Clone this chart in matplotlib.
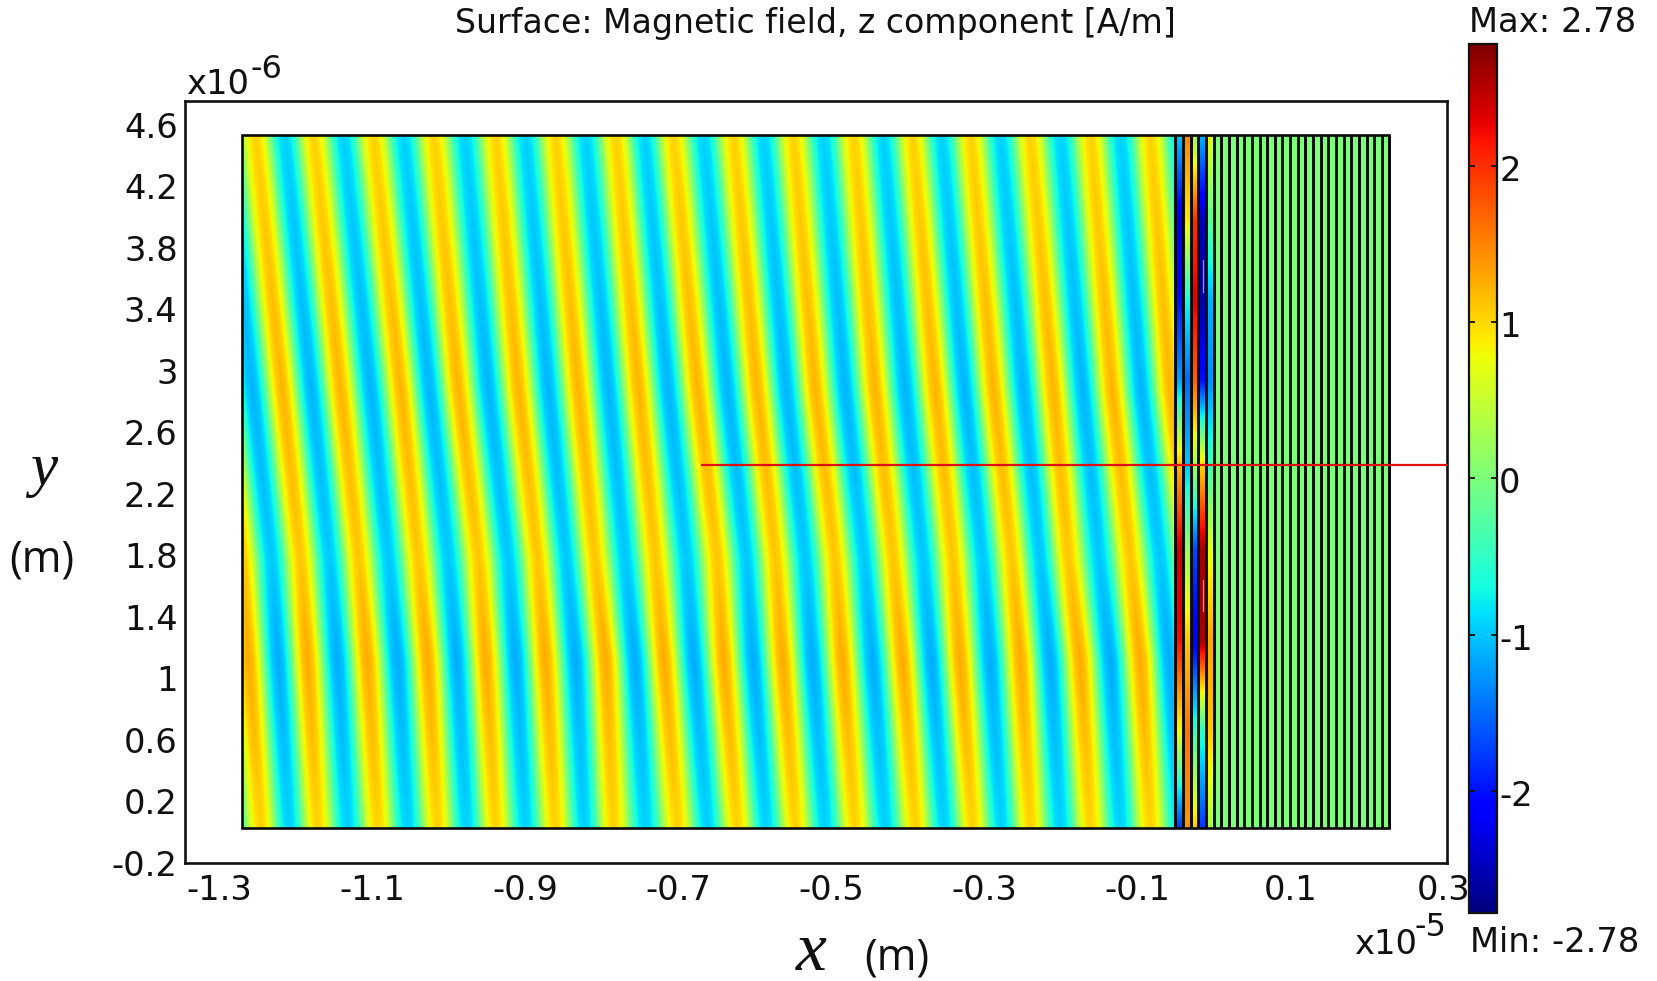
import numpy as np
import matplotlib
matplotlib.use("Agg")
import matplotlib.pyplot as plt
from matplotlib.patches import Rectangle
from matplotlib.cm import ScalarMappable
from matplotlib.colors import Normalize
from matplotlib.transforms import ScaledTranslation

W, H = 1658, 981
TITLE = "Surface: Magnetic field, z component [A/m]"
X_TICKS = [-1.3, -1.1, -0.9, -0.7, -0.5, -0.3, -0.1, 0.1, 0.3]
Y_TICKS = [-0.2, 0.2, 0.6, 1, 1.4, 1.8, 2.2, 2.6, 3, 3.4, 3.8, 4.2, 4.6]
Y_TICK_LABELS = ["-0.2", "0.2", "0.6", "1", "1.4", "1.8", "2.2", "2.6", "3", "3.4", "3.8", "4.2", "4.6"]
CBAR_TICKS = [-2, -1, 0, 1, 2]
V_MIN, V_MAX = -2.78, 2.78
X_LIMITS = (-1.3444, 0.305)
Y_LIMITS = (-0.2, 4.754)

# crest lines of the incident region (x, in 1e-5 m) at five heights (y, in 1e-6 m)
crest_y = [0.028, 1.120, 1.770, 2.875, 4.533]
crest_top = [-1.410, -1.331, -1.253, -1.177, -1.099, -1.020, -0.939, -0.861, -0.782, -0.707,
             -0.628, -0.550, -0.471, -0.394, -0.318, -0.240, -0.161, -0.083, -0.005]
crest_upper = [-1.374, -1.296, -1.218, -1.142, -1.063, -0.988, -0.909, -0.831, -0.752, -0.675,
               -0.597, -0.521, -0.443, -0.364, -0.288, -0.210, -0.133, -0.057, 0.021]
crest_mid = [-1.348, -1.270, -1.194, -1.118, -1.040, -0.961, -0.884, -0.809, -0.730, -0.649,
             -0.573, -0.495, -0.419, -0.341, -0.264, -0.190, -0.109, -0.031, 0.047]
crest_lower = [-1.341, -1.262, -1.185, -1.107, -1.028, -0.952, -0.874, -0.795, -0.719, -0.641,
               -0.564, -0.486, -0.407, -0.332, -0.253, -0.175, -0.096, -0.020, 0.058]
crest_bottom = [-1.325, -1.246, -1.172, -1.093, -1.015, -0.939, -0.861, -0.785, -0.701, -0.623,
                -0.547, -0.469, -0.390, -0.315, -0.240, -0.161, -0.083, -0.005, 0.073]
# values listed from the bottom height to the top height, as crest_y
crest_value = [1.05, 1.28, 1.12, 1.22, 1.05]
trough_value = [-0.95, -1.15, -1.00, -1.10, -0.95]
# share of the crest value across one period, read across a stripe
period_share = [1.0, 0.94, 0.78, 0.48, 0.20, 0.05, 0.0, 0.05, 0.20, 0.48, 0.78, 0.94]

# thin layers
layer_walls = [-0.05, -0.04, -0.03, -0.02, -0.01, 0.00, 0.01, 0.02, 0.03, 0.04, 0.05, 0.06,
               0.07, 0.08, 0.09, 0.10, 0.11, 0.12, 0.13, 0.14, 0.15, 0.16, 0.17, 0.18,
               0.19, 0.20, 0.21, 0.22, 0.229]
layer_y = [0.028, 0.665, 1.250, 1.835, 2.388, 2.940, 3.461, 3.981, 4.533]
layer_1 = [-1.8, 0.8, 2.2, 2.4, 1.2, -1.2, -2.0, -2.3, -1.0]
layer_2 = [1.4, 1.6, 1.1, 0.2, -1.0, -1.5, -0.7, 0.9, 1.5]
layer_3 = [1.1, -0.5, -2.2, -1.7, 0.3, 1.7, 2.3, 2.0, 0.2]
layer_4 = [-1.8, -0.5, 2.6, 2.6, 1.0, -2.0, -2.6, -2.5, -1.1]
layer_5 = [0.3, 1.1, 1.3, 0.7, -0.4, -1.3, -1.1, -0.2, 0.7]
outer_layer_value = 0.02

DOMAIN_X = (-1.27, 0.229)
DOMAIN_Y = (0.028, 4.533)
PROBE_X = (-0.67, X_LIMITS[1])
PROBE_Y = 2.388
SLITS = [(-0.014, 3.72, 3.51), (-0.014, 1.64, 1.44)]

FS = 24.3
plt.rcParams["font.family"] = "DejaVu Sans"
fig = plt.figure(figsize=(W / 100, H / 100), dpi=100, facecolor="white")


def px_axes(l, t, r, b):
    return fig.add_axes([l / W, 1 - b / H, (r - l) / W, (b - t) / H])


def txt(x, y, s, **kw):
    kw.setdefault("fontsize", FS)
    kw.setdefault("color", "#111111")
    return fig.text(x / W, 1 - y / H, s, **kw)


ax = px_axes(185, 101, 1447, 863)
for s in ax.spines.values():
    s.set_linewidth(1.9)
    s.set_color("#111111")
ax.set_xticks(X_TICKS, [f"{v:g}" for v in X_TICKS], fontsize=FS, color="#111111")
ax.set_yticks(Y_TICKS, Y_TICK_LABELS, fontsize=FS, color="#111111")
ax.tick_params(axis="both", length=0)
ax.tick_params(axis="x", pad=8)
ax.tick_params(axis="y", pad=5.3)

# resample the read crest lines onto the pixel grid of the incident region
crests = np.array([crest_bottom, crest_lower, crest_mid, crest_upper, crest_top])
share = np.array(period_share)
fractions = np.arange(len(share)) / len(share)
x_fine = np.linspace(DOMAIN_X[0], layer_walls[0], 936)
y_fine = np.linspace(DOMAIN_Y[0], DOMAIN_Y[1], 694)
field = np.zeros((y_fine.size, x_fine.size))
share_nodes = np.append(np.tile(share, crests.shape[1] - 1), share[0])
for row, y in enumerate(y_fine):
    line = np.array([np.interp(y, crest_y, crests[:, k]) for k in range(crests.shape[1])])
    nodes = np.concatenate([line[k] + (line[k + 1] - line[k]) * fractions for k in range(line.size - 1)]
                           + [[line[-1]]])
    c = np.interp(y, crest_y, crest_value)
    t = np.interp(y, crest_y, trough_value)
    field[row] = np.interp(x_fine, nodes, t + share_nodes * (c - t))

kw = dict(origin="lower", aspect="auto", cmap="jet", vmin=V_MIN, vmax=V_MAX, interpolation="bilinear")
ax.imshow(field, extent=(DOMAIN_X[0], layer_walls[0], DOMAIN_Y[0], DOMAIN_Y[1]), **kw)
for i, values in enumerate([layer_1, layer_2, layer_3, layer_4, layer_5]):
    strip = np.interp(y_fine, layer_y, values)[:, None]
    ax.imshow(strip, extent=(layer_walls[i], layer_walls[i + 1], DOMAIN_Y[0], DOMAIN_Y[1]), **kw)
ax.imshow([[outer_layer_value]], extent=(layer_walls[5], DOMAIN_X[1], DOMAIN_Y[0], DOMAIN_Y[1]), **kw)
ax.set_xlim(*X_LIMITS)
ax.set_ylim(*Y_LIMITS)

ax.vlines(layer_walls, DOMAIN_Y[0], DOMAIN_Y[1], color="#0a0a0a", linewidth=2.1, zorder=3)
ax.add_patch(Rectangle((DOMAIN_X[0], DOMAIN_Y[0]), DOMAIN_X[1] - DOMAIN_X[0], DOMAIN_Y[1] - DOMAIN_Y[0],
                       facecolor="none", edgecolor="#0a0a0a", linewidth=1.9, zorder=4))
for sx, y0, y1 in SLITS:
    ax.plot([sx, sx], [y0, y1], color="#c8c0e0", linewidth=0.9, alpha=0.8, zorder=3)
ax.plot(PROBE_X, [PROBE_Y, PROBE_Y], color="#e01010", linewidth=1.6, zorder=5, solid_capstyle="butt")

cax = px_axes(1469, 44, 1497, 913)
cb = fig.colorbar(ScalarMappable(Normalize(V_MIN, V_MAX), "jet"), cax=cax, ticks=CBAR_TICKS)
cb.outline.set_linewidth(1.6)
cb.outline.set_edgecolor("#111111")
cax.tick_params(axis="y", direction="in", left=True, right=True, length=4, width=1.3,
                labelsize=FS, pad=1.5, labelcolor="#111111", color="#111111")
cax.set_yticklabels(["-2", "-1", "0", "1", "2"])
for label in cax.get_yticklabels():
    label.set_transform(label.get_transform() + ScaledTranslation(0, -2 / 100, fig.dpi_scale_trans))

txt(815, 23, TITLE, ha="center", va="center", fontsize=23.9)
txt(1553, 23, "Max: 2.78", ha="center", va="center")
txt(1555, 943, "Min: -2.78", ha="center", va="center")
txt(186, 85, "x10", ha="left", va="center")
txt(251, 70, "-6", ha="left", va="center", fontsize=23)
txt(1354, 944, "x10", ha="left", va="center")
txt(1415, 927, "-5", ha="left", va="center", fontsize=23)

txt(44, 470, "y", ha="center", va="center", fontsize=44, family="Liberation Serif", style="italic")
txt(42, 560, "(m)", ha="center", va="center", fontsize=31, family="Open Sans")
txt(811, 953, "x", ha="center", va="center", fontsize=50, family="Liberation Serif", style="italic")
txt(897, 958, "(m)", ha="center", va="center", fontsize=31, family="Open Sans")

fig.savefig("out.png", dpi=100, facecolor="white")
